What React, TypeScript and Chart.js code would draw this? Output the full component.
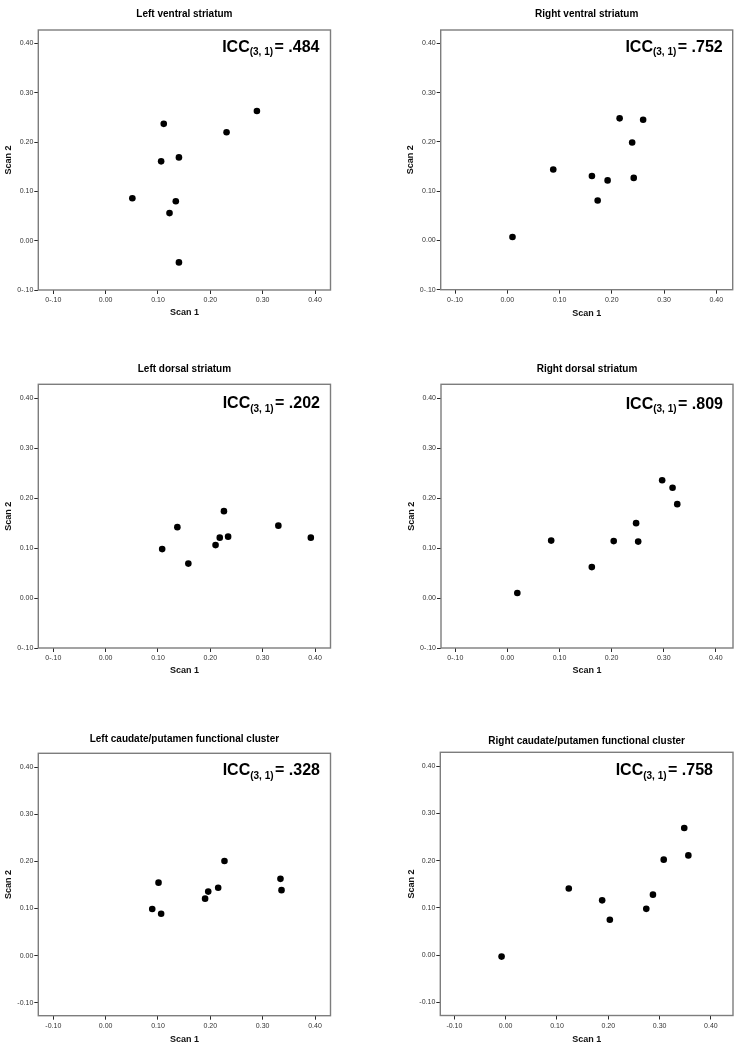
import React, { useEffect, useRef } from "react";
import { Chart, registerables } from "chart.js";

Chart.register(...registerables);

const FONT = "Arial, 'Liberation Sans', Helvetica, sans-serif";

// ---------- data ----------
const panelTitles = [
  "Left ventral striatum",
  "Right ventral striatum",
  "Left dorsal striatum",
  "Right dorsal striatum",
  "Left caudate/putamen functional cluster",
  "Right caudate/putamen functional cluster",
];
const iccValues = [".484", ".752", ".202", ".809", ".328", ".758"];
const xAxisTitle = "Scan 1";
const yAxisTitle = "Scan 2";

const tickValues = [-0.1, 0, 0.1, 0.2, 0.3, 0.4];
const tickLabelsUpper = ["0-.10", "0.00", "0.10", "0.20", "0.30", "0.40"];
const tickLabelsLower = ["-0.10", "0.00", "0.10", "0.20", "0.30", "0.40"];

const leftVentralScan1 = [0.051, 0.111, 0.106, 0.14, 0.134, 0.122, 0.14, 0.231, 0.289];
const leftVentralScan2 = [0.086, 0.237, 0.161, 0.169, 0.08, 0.056, -0.044, 0.22, 0.263];
const rightVentralScan1 = [0.01, 0.088, 0.162, 0.173, 0.192, 0.215, 0.239, 0.242, 0.26];
const rightVentralScan2 = [0.007, 0.144, 0.131, 0.081, 0.122, 0.248, 0.199, 0.127, 0.245];
const leftDorsalScan1 = [0.108, 0.137, 0.158, 0.21, 0.218, 0.226, 0.234, 0.33, 0.392];
const leftDorsalScan2 = [0.098, 0.142, 0.069, 0.106, 0.121, 0.174, 0.123, 0.145, 0.121];
const rightDorsalScan1 = [0.019, 0.084, 0.162, 0.204, 0.247, 0.251, 0.297, 0.317, 0.326];
const rightDorsalScan2 = [0.01, 0.115, 0.062, 0.114, 0.15, 0.113, 0.236, 0.221, 0.188];
const leftCaudateScan1 = [0.089, 0.101, 0.106, 0.19, 0.196, 0.215, 0.227, 0.334, 0.336];
const leftCaudateScan2 = [0.099, 0.155, 0.089, 0.121, 0.136, 0.144, 0.201, 0.163, 0.139];
const rightCaudateScan1 = [-0.008, 0.123, 0.188, 0.203, 0.274, 0.287, 0.308, 0.348, 0.356];
const rightCaudateScan2 = [-0.003, 0.141, 0.116, 0.075, 0.098, 0.128, 0.202, 0.269, 0.211];

const panelScan1 = [leftVentralScan1, rightVentralScan1, leftDorsalScan1, rightDorsalScan1, leftCaudateScan1, rightCaudateScan1];
const panelScan2 = [leftVentralScan2, rightVentralScan2, leftDorsalScan2, rightDorsalScan2, leftCaudateScan2, rightCaudateScan2];
const panelTickLabels = [tickLabelsUpper, tickLabelsUpper, tickLabelsUpper, tickLabelsUpper, tickLabelsLower, tickLabelsLower];

// axis ranges per panel
const xMins = [-0.1287, -0.1274, -0.1287, -0.1275, -0.1287, -0.1274];
const xMaxs = [0.4296, 0.4314, 0.4296, 0.433, 0.4296, 0.443];
const yMins = [-0.1, -0.1, -0.1, -0.1, -0.1276, -0.1275];
const yMaxs = [0.4274, 0.4274, 0.428, 0.428, 0.4297, 0.429];

// ---------- layout (page pixels) ----------
const layouts = [
  { cx: 0, cy: 0, cw: 371, ch: 330, L: 38.3, R: 330.5, T: 30, B: 290, titleY: 14, scan1Y: 313, scan2X: 8.3, iccDy: 21.7, iccDx: 11 },
  { cx: 371, cy: 0, cw: 371, ch: 330, L: 440.7, R: 732.7, T: 30, B: 289.7, titleY: 14, scan1Y: 313.3, scan2X: 411, iccDy: 21.7, iccDx: 10 },
  { cx: 0, cy: 330, cw: 371, ch: 360, L: 38.3, R: 330.5, T: 384.3, B: 648, titleY: 369, scan1Y: 671, scan2X: 8.3, iccDy: 24, iccDx: 10.5 },
  { cx: 371, cy: 330, cw: 371, ch: 360, L: 441, R: 733, T: 384.3, B: 648, titleY: 369, scan1Y: 671, scan2X: 411.7, iccDy: 24.3, iccDx: 10 },
  { cx: 0, cy: 690, cw: 371, ch: 360, L: 38.3, R: 330.5, T: 753.3, B: 1015.7, titleY: 739.3, scan1Y: 1040, scan2X: 8.3, iccDy: 21.7, iccDx: 10.5 },
  { cx: 371, cy: 690, cw: 371, ch: 360, L: 440.3, R: 733, T: 752.3, B: 1015.5, titleY: 741.7, scan1Y: 1040, scan2X: 411.7, iccDy: 22.7, iccDx: 20 },
];

const TITLE_SIZE = 10;
const AXIS_TITLE_SIZE = 9;
const TICK_SIZE = 7;

function framePlugin() {
  return {
    id: "frame",
    afterDatasetsDraw(chart: any) {
      const { ctx, chartArea } = chart;
      ctx.save();
      ctx.strokeStyle = "#7d7d7d";
      ctx.lineWidth = 1.4;
      ctx.strokeRect(chartArea.left, chartArea.top, chartArea.right - chartArea.left, chartArea.bottom - chartArea.top);
      ctx.restore();
    },
  };
}

function iccPlugin(value: string, dx: number, dy: number) {
  return {
    id: "icc",
    afterDraw(chart: any) {
      const { ctx, chartArea } = chart;
      ctx.save();
      ctx.fillStyle = "#000";
      ctx.textBaseline = "alphabetic";
      ctx.textAlign = "left";
      const big = `bold 16px ${FONT}`;
      const small = `bold 10px ${FONT}`;
      ctx.font = big;
      const w1 = ctx.measureText("ICC").width;
      const rest = "= " + value;
      const w3 = ctx.measureText(rest).width;
      ctx.font = small;
      const sub = "(3, 1)";
      const w2 = ctx.measureText(sub).width;
      const gap = 1.5;
      let x = chartArea.right - dx - (w1 + w2 + gap + w3);
      const y = chartArea.top + dy;
      ctx.font = big;
      ctx.fillText("ICC", x, y);
      x += w1;
      ctx.font = small;
      ctx.fillText(sub, x, y + 3.5);
      x += w2 + gap;
      ctx.font = big;
      ctx.fillText(rest, x, y);
      ctx.restore();
    },
  };
}

function Panel({ index }: { index: number }) {
  const ref = useRef<HTMLCanvasElement | null>(null);
  const lay = layouts[index];

  useEffect(() => {
    if (!ref.current) return;
    const xs = panelScan1[index];
    const ys = panelScan2[index];
    const points = xs.map((x, i) => ({ x, y: ys[i] }));
    const labels = panelTickLabels[index];

    const titleLH = TITLE_SIZE * 1.2;
    const titlePadTop = lay.titleY - lay.cy - titleLH / 2;
    const titlePadBottom = lay.T - lay.cy - titlePadTop - titleLH;
    const axLH = AXIS_TITLE_SIZE * 1.2;
    const xTitlePadBottom = lay.cy + lay.ch - lay.scan1Y - axLH / 2;
    const yTitlePadTop = lay.scan2X - lay.cx - axLH / 2;
    const yScaleWidth = lay.L - lay.cx;
    const xScaleHeight = lay.cy + lay.ch - lay.B;
    const rightPad = lay.cx + lay.cw - lay.R;

    const tickFont = { family: FONT, size: TICK_SIZE };
    const gridCfg = {
      display: true,
      drawOnChartArea: false,
      drawTicks: true,
      tickLength: 4,
      color: "#2a2a2a",
      lineWidth: 1,
    };

    const chart = new Chart(ref.current, {
      type: "scatter",
      data: {
        datasets: [
          {
            data: points,
            pointRadius: 3.3,
            pointHoverRadius: 3.3,
            pointBackgroundColor: "#000",
            pointBorderColor: "#000",
            pointBorderWidth: 0,
            showLine: false,
          },
        ],
      },
      options: {
        animation: false,
        responsive: false,
        devicePixelRatio: 1,
        events: [],
        layout: { padding: { left: 0, top: 0, right: rightPad, bottom: 0 } },
        plugins: {
          legend: { display: false },
          tooltip: { enabled: false },
          title: {
            display: true,
            text: panelTitles[index],
            fullSize: false,
            color: "#000",
            font: { family: FONT, size: TITLE_SIZE, weight: "bold", lineHeight: 1.2 },
            padding: { top: titlePadTop, bottom: titlePadBottom },
          },
        },
        scales: {
          x: {
            type: "linear",
            position: "bottom",
            min: xMins[index],
            max: xMaxs[index],
            bounds: "data",
            afterBuildTicks: (scale: any) => {
              scale.ticks = tickValues.map((v) => ({ value: v }));
            },
            afterFit: (scale: any) => {
              scale.height = xScaleHeight;
            },
            ticks: {
              autoSkip: false,
              maxRotation: 0,
              minRotation: 0,
              padding: 2,
              color: "#333",
              font: tickFont,
              callback: (_v: any, i: number) => labels[i],
            },
            grid: gridCfg,
            border: { display: false },
            title: {
              display: true,
              text: xAxisTitle,
              color: "#111",
              font: { family: FONT, size: AXIS_TITLE_SIZE, weight: "bold", lineHeight: 1.2 },
              padding: { top: 0, bottom: xTitlePadBottom },
            },
          },
          y: {
            type: "linear",
            position: "left",
            min: yMins[index],
            max: yMaxs[index],
            bounds: "data",
            afterBuildTicks: (scale: any) => {
              scale.ticks = tickValues.map((v) => ({ value: v }));
            },
            afterFit: (scale: any) => {
              scale.width = yScaleWidth;
            },
            ticks: {
              autoSkip: false,
              padding: 1,
              color: "#333",
              font: tickFont,
              callback: (_v: any, i: number) => labels[i],
            },
            grid: gridCfg,
            border: { display: false },
            title: {
              display: true,
              text: yAxisTitle,
              color: "#111",
              font: { family: FONT, size: AXIS_TITLE_SIZE, weight: "bold", lineHeight: 1.2 },
              padding: { top: yTitlePadTop, bottom: 0 },
            },
          },
        },
      } as any,
      plugins: [framePlugin(), iccPlugin(iccValues[index], lay.iccDx, lay.iccDy)],
    });
    return () => chart.destroy();
  }, [index]);

  return (
    <canvas
      ref={ref}
      width={lay.cw}
      height={lay.ch}
      style={{ position: "absolute", left: lay.cx, top: lay.cy, width: lay.cw, height: lay.ch }}
    />
  );
}

export default function App() {
  return (
    <div style={{ position: "absolute", left: 0, top: 0, width: 742, height: 1050, background: "#fff", overflow: "hidden" }}>
      {layouts.map((_, i) => (
        <Panel key={i} index={i} />
      ))}
    </div>
  );
}
